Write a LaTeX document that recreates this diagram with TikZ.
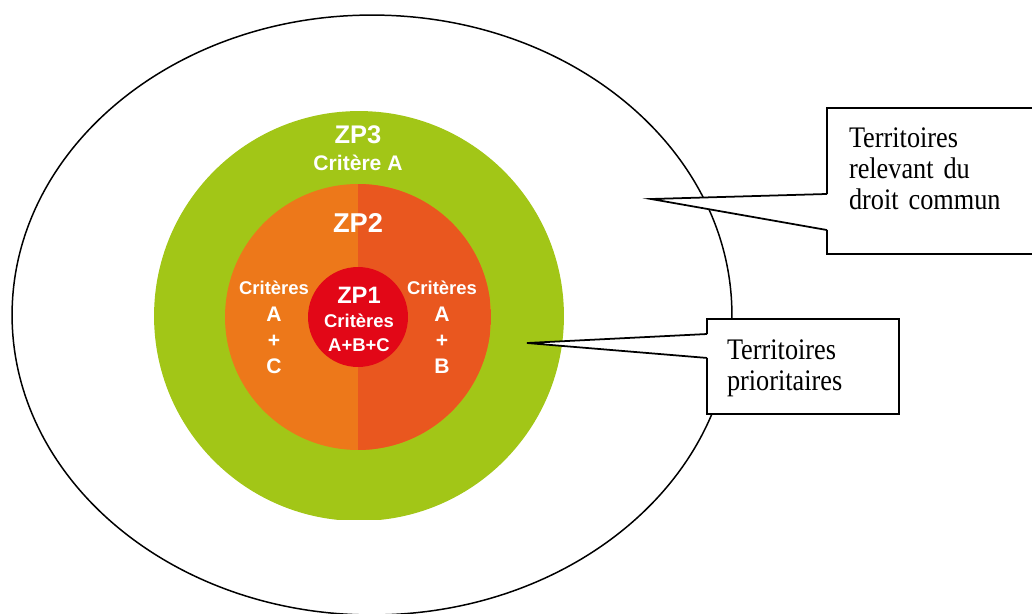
\documentclass[tikz,border=0pt]{standalone}
\usepackage{fontspec}
\usepackage{xcolor}
\usetikzlibrary{shapes.geometric, calc}
\newfontfamily\zpfont{Liberation Sans}
\newfontfamily\bullefont[FakeStretch=0.88, WordSpace=0.8]{Liberation Serif}
\definecolor{zpgreen}{RGB}{162,198,23}
\definecolor{zporange}{RGB}{237,120,26}
\definecolor{zporangered}{RGB}{233,87,31}
\definecolor{zpred}{RGB}{226,7,23}

\tikzset{
  zone/.style={circle, inner sep=0pt, outer sep=0pt},
  zplabel/.style={text=white, align=center, anchor=base, inner sep=0pt},
  bulle/.style={draw, line width=1pt, fill=white, anchor=north west, align=left,
    inner ysep=0pt, outer sep=0pt, font=\bullefont\fontsize{17}{17.5}\selectfont},
  pointe/.style={line width=1pt}
}

\begin{document}
\begin{tikzpicture}[x=0.02cm, y=-0.02cm]
\useasboundingbox (0,0) rectangle (1032,613);

% Droit commun
\node[ellipse, draw, line width=0.85pt, minimum width=14.4cm, minimum height=12cm, inner sep=0pt] (dc zone) at (372,315) {};

% ZP3 (flat cut at the bottom)
\begin{scope}
  \clip (0,0) rectangle (1032,519);
  \node[zone, fill=zpgreen, minimum size=8.2cm] (zp3) at (359,316) {};
\end{scope}
% ZP2: two halves
\node[zone, fill=zporange, minimum size=5.32cm,
  path picture={\fill[zporangered] (path picture bounding box.north) rectangle (path picture bounding box.south east);}]
  (zp2) at (358,317) {};
% ZP1
\node[zone, fill=zpred, minimum size=2cm] (zp1) at (358,317) {};

% Labels (multi-line ones sit on their last line)
\node[zplabel, font=\zpfont\bfseries\fontsize{14.5}{17}\selectfont] (zp3 lbl) at (358,143) {ZP3};
\node[zplabel, font=\zpfont\bfseries\fontsize{12}{14}\selectfont] (zp3 crit) at (358,170) {Critère A};
\node[zplabel, font=\zpfont\bfseries\fontsize{15.5}{18}\selectfont] (zp2 lbl) at (358,232) {ZP2};
\foreach \x/\lbl in {274/C, 442/B}
  \node[zplabel, font=\zpfont\bfseries\fontsize{10.5}{14.8}\selectfont] (zp2 crit \lbl) at (\x,373)
    {Critères\\{\fontsize{12}{14.8}\selectfont A}\\{\fontsize{12}{14.8}\selectfont +}\\{\fontsize{12}{14.8}\selectfont \lbl}};
\node[zplabel, font=\zpfont\bfseries\fontsize{13.5}{16}\selectfont] (zp1 lbl) at (359,303) {ZP1};
\node[zplabel, font=\zpfont\bfseries\fontsize{10.5}{13.6}\selectfont] (zp1 crit) at (359,351) {Critères\\A+B+C};

% Callouts
\node[bulle, minimum width=4.8cm, text width=3.92cm, inner xsep=0.44cm, text height=0.8cm, text depth=2.12cm]
  (dc) at (827,108) {Territoires\\relevant du\\droit commun};
\coordinate (dc tip) at (651,199);
\fill[white] ($(dc.north west)!0.589!(dc.south west) + (1pt,0)$) -- (dc tip)
  -- ($(dc.north west)!0.836!(dc.south west) + (1pt,0)$) -- cycle;
\draw[pointe] ($(dc.north west)!0.589!(dc.south west)$) -- (dc tip) -- ($(dc.north west)!0.836!(dc.south west)$);

\node[bulle, minimum width=3.84cm, text width=3.04cm, inner xsep=0.4cm, text height=0.82cm, text depth=1.08cm]
  (prio) at (707,319) {Territoires\\prioritaires};
\coordinate (prio tip) at (527,343);
\fill[white] ($(prio.north west)!0.158!(prio.south west) + (1pt,0)$) -- (prio tip)
  -- ($(prio.north west)!0.41!(prio.south west) + (1pt,0)$) -- cycle;
\draw[pointe] ($(prio.north west)!0.158!(prio.south west)$) -- (prio tip) -- ($(prio.north west)!0.41!(prio.south west)$);
\end{tikzpicture}
\end{document}
